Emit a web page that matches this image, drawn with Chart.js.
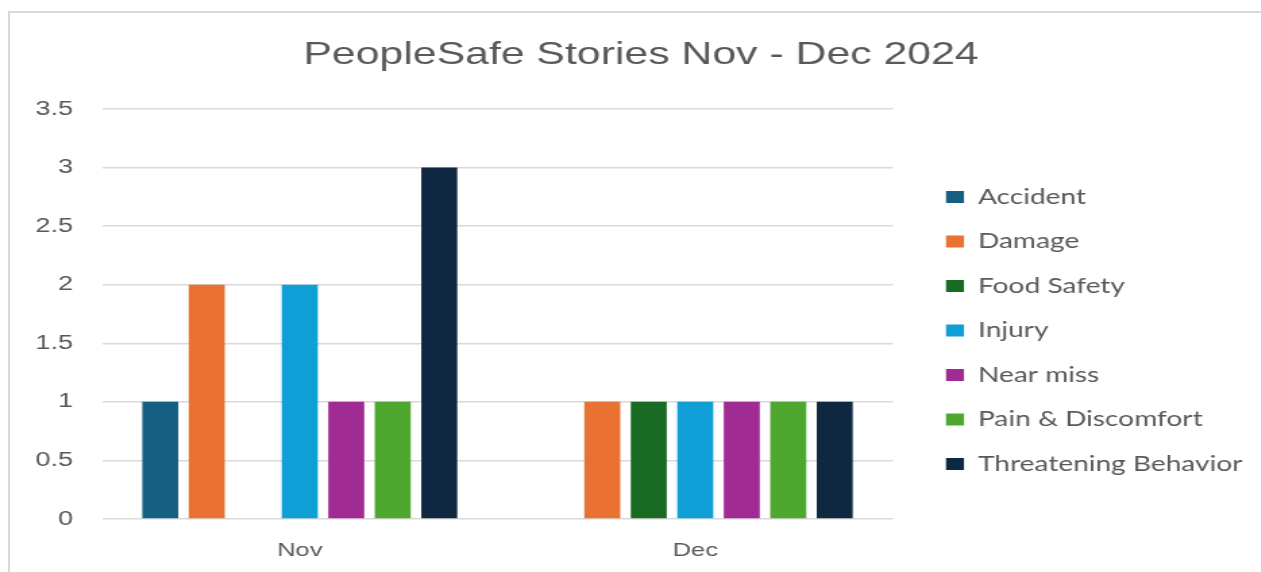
<!DOCTYPE html>
<html>
<head>
<meta charset="utf-8">
<script src="https://cdn.jsdelivr.net/npm/chart.js@4.4.1/dist/chart.umd.min.js"></script>
<style>
  html, body { margin: 0; padding: 0; overflow: hidden; background: #fff; width: 1261px; height: 572px; }
  #frame { position: absolute; left: 8px; top: 11px; width: 1300px; height: 620px;
           border-left: 2px solid #d9d9d9; border-top: 2px solid #d9d9d9; }
  #chart { position: absolute; left: 0; top: 0; }
</style>
</head>
<body>
<div id="frame"></div>
<canvas id="chart" width="963" height="572" style="width:1300px;height:572px;"></canvas>
<script>
// Months on the category axis
const categories = ['Nov', 'Dec'];

// Story counts per type, one value per month
const accident            = [1, 0];
const damage              = [2, 1];
const foodSafety          = [0, 1];
const injury              = [2, 1];
const nearMiss            = [1, 1];
const painDiscomfort      = [1, 1];
const threateningBehavior = [3, 1];

const seriesNames = ['Accident', 'Damage', 'Food Safety', 'Injury', 'Near miss', 'Pain & Discomfort', 'Threatening Behavior'];
const seriesValues = [accident, damage, foodSafety, injury, nearMiss, painDiscomfort, threateningBehavior];
const seriesColors = ['#156082', '#E97132', '#196B24', '#0F9ED5', '#A02B93', '#4EA72E', '#0E2841'];

// Value axis tick labels
const yTicks = [0, 0.5, 1, 1.5, 2, 2.5, 3, 3.5];

const textColor = '#595959';
const gridColor = '#d9d9d9';

// The canvas is drawn narrow and widened by CSS (wide lettering look).
const canvasEl = document.getElementById('chart');
const STRETCH = 1300 / canvasEl.width;
const toCanvasX = v => v / STRETCH;

// Horizontal layout targets, in page pixels
const plotLeft = toCanvasX(102);
const plotRight = toCanvasX(893);
const legendBoxX = toCanvasX(946);
const titleCenter = toCanvasX(641);

// Legend geometry
const legendFontSize = 20.8;
const legendFontFamily = 'Lato, "Noto Sans", sans-serif';
const legendPadding = 23.7;
const legendBoxW = 13.3;
const measureCtx = document.createElement('canvas').getContext('2d');
measureCtx.font = legendFontSize + 'px ' + legendFontFamily;
const longestLabel = Math.max(...seriesNames.map(n => measureCtx.measureText(n).width));
const legendWidth = legendPadding + legendBoxW + legendFontSize / 2 + longestLabel + 10;
const legendLeft = legendBoxX - legendPadding;
const legendRight = legendLeft + legendWidth;
const padRight = canvasEl.width - legendRight;
const padLeft = 2 * titleCenter - legendRight;
const yAxisWidth = plotLeft - padLeft;
const gapWidth = legendLeft - plotRight;

const datasets = seriesNames.map((name, i) => ({
  label: name,
  data: seriesValues[i],
  backgroundColor: seriesColors[i],
  borderWidth: 0,
  barPercentage: 0.774,
  categoryPercentage: 0.823
}));

new Chart(canvasEl, {
  type: 'bar',
  data: { labels: categories, datasets },
  options: {
    responsive: false,
    devicePixelRatio: 1,
    animation: false,
    layout: { padding: { left: padLeft, right: padRight, top: 0, bottom: 0 } },
    plugins: {
      title: {
        display: true,
        text: 'PeopleSafe Stories Nov - Dec 2024',
        color: textColor,
        font: { family: '"Liberation Sans", Arial, sans-serif', size: 31.7, weight: 'normal', lineHeight: 1.2 },
        padding: { top: 36, bottom: 35 }
      },
      legend: {
        position: 'right',
        align: 'start',
        maxWidth: legendWidth + 0.01,
        title: { display: true, text: '', font: { size: 10, lineHeight: 1 }, padding: { top: 153, bottom: 0 } },
        labels: {
          color: textColor,
          font: { family: legendFontFamily, size: legendFontSize },
          boxWidth: legendBoxW,
          boxHeight: 12,
          padding: legendPadding
        }
      },
      tooltip: { enabled: false }
    },
    scales: {
      x: {
        afterFit: s => { s.height = 53; },
        grid: { display: false, drawTicks: false },
        border: { display: false },
        ticks: {
          color: textColor,
          font: { family: '"Liberation Sans", Arial, sans-serif', size: 19 },
          padding: 20.5
        }
      },
      y: {
        min: 0,
        max: 3.5,
        afterBuildTicks: s => { s.ticks = yTicks.map(v => ({ value: v })); },
        afterFit: s => { s.width = yAxisWidth; },
        grid: { color: gridColor, lineWidth: 1.5, drawTicks: false },
        border: { display: false },
        ticks: {
          color: textColor,
          font: { family: '"Liberation Sans", Arial, sans-serif', size: 20 },
          padding: 21.5,
          callback: v => String(v)
        }
      },
      // spacer between plot area and legend
      gap: {
        type: 'linear',
        position: 'right',
        display: true,
        grid: { display: false, drawTicks: false },
        border: { display: false },
        ticks: { display: false },
        afterFit: s => { s.width = gapWidth; }
      }
    }
  }
});
</script>
</body>
</html>
